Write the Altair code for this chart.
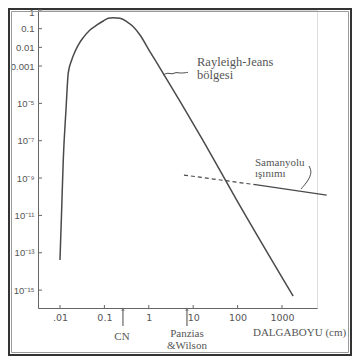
import altair as alt
import pandas as pd

# Planck (cosmic background) curve
planck_wavelength_cm = [0.0100, 0.01091, 0.01186, 0.01365, 0.01538, 0.01837, 0.02178, 0.0258,
                        0.0330, 0.0474, 0.0681, 0.0944, 0.1225, 0.156, 0.2245, 0.323, 0.448,
                        0.634, 1.06, 1.79, 15.5, 95.5, 1778]
planck_intensity = [4.1e-14, 1.95e-11, 9.3e-9, 4.4e-6, 4.3e-4, 2.1e-3, 5.9e-3, 0.0133,
                    0.032, 0.0849, 0.158, 0.258, 0.359, 0.39, 0.359, 0.234, 0.128,
                    0.046, 5.9e-3, 7.8e-4, 1.38e-7, 6.6e-11, 4.8e-16]

# Milky Way emission line
galaxy_dashed_wl = [6.2, 274]
galaxy_dashed_I = [1.45e-9, 4.3e-10]
galaxy_solid_wl = [274, 10160]
galaxy_solid_I = [4.3e-10, 1.23e-10]

# Leader lines
rj_leader_wl = [2.09, 2.70, 3.33, 4.10, 5.05, 7.64]
rj_leader_I = [3.3e-4, 4.5e-4, 3.5e-4, 4.8e-4, 4.0e-4, 4.6e-4]
mw_leader_wl = [4055, 4742, 3855, 2680]
mw_leader_I = [4.4e-9, 2.1e-9, 6.9e-10, 2.6e-10]

# Arrows under the axis (CN, Penzias & Wilson)
arrow_wl = [0.262, 7.24]
arrow_I_low = [1.2e-17, 1.2e-17]
arrow_I_high = [9.5e-17, 9.5e-17]

# Annotations
rj_texts = ["Rayleigh-Jeans", "bölgesi"]
rj_text_wl = [12.2, 12.2]
rj_text_I = [1.64e-3, 3.3e-4]
mw_texts = ["Samanyolu", "ışınımı"]
mw_text_wl = [246.6, 246.6]
mw_text_I = [6.4e-9, 1.64e-9]
axis_title = ["DALGABOYU (cm)"]
axis_title_wl = [222]
axis_title_I = [5.0e-18]
center_texts = ["CN", "Panzias", "&Wilson"]
center_text_wl = [0.249, 7.24, 7.24]
center_text_I = [3.05e-18, 4.4e-18, 1.0e-18]

# Axis ticks
x_tick_values = [0.01, 0.1, 1, 10, 100, 1000]
x_tick_labels = [".01", "0.1", "1", "10", "100", "1000"]
y_tick_values = [1, 0.1, 0.01, 0.001, 1e-5, 1e-7, 1e-9, 1e-11, 1e-13, 1e-15]
y_tick_labels = ["1", "0.1", "0.01", "0.001", "10⁻⁵", "10⁻⁷", "10⁻⁹", "10⁻¹¹", "10⁻¹³", "10⁻¹⁵"]


def label_expr(values, labels):
    import math
    expr = "''"
    for v, l in zip(values, labels):
        e = round(math.log10(v))
        expr = f"(round(log(datum.value)/LN10) == {e}) ? '{l}' : " + expr
    return expr


W, H = 279, 298
INK = "#4a4a4a"
TXT = "#555555"

xs = alt.Scale(type="log", domain=[0.0032, 6140], nice=False)
ys = alt.Scale(type="log", domain=[1.1e-16, 1], nice=False)

x_axis = alt.Axis(values=x_tick_values, labelExpr=label_expr(x_tick_values, x_tick_labels),
                  title=None, ticks=False, grid=False, labelPadding=4, labelFont="DejaVu Sans",
                  labelFontSize=9.5, labelColor=TXT, domainColor="#666", labelFlush=False)
y_axis = alt.Axis(values=y_tick_values, labelExpr=label_expr(y_tick_values, y_tick_labels),
                  title=None, ticks=False, grid=False, labelPadding=4, labelFont="Liberation Sans",
                  labelFontSize=9.5, labelColor=TXT, domainColor="#666",
                  labelFlush=True, labelFlushOffset=3)

planck_df = pd.DataFrame({"wl": planck_wavelength_cm, "I": planck_intensity})
planck = alt.Chart(planck_df).mark_line(color=INK, strokeWidth=1.5, interpolate="monotone").encode(
    x=alt.X("wl:Q", scale=xs, axis=x_axis),
    y=alt.Y("I:Q", scale=ys, axis=y_axis),
)

dashed = alt.Chart(pd.DataFrame({"wl": galaxy_dashed_wl, "I": galaxy_dashed_I})).mark_line(
    color=INK, strokeWidth=1.2, strokeDash=[4, 3], clip=False).encode(
    x=alt.X("wl:Q", scale=xs), y=alt.Y("I:Q", scale=ys))
solid = alt.Chart(pd.DataFrame({"wl": galaxy_solid_wl, "I": galaxy_solid_I})).mark_line(
    color=INK, strokeWidth=1.3, clip=False).encode(
    x=alt.X("wl:Q", scale=xs), y=alt.Y("I:Q", scale=ys))

rj_leader = alt.Chart(pd.DataFrame({"wl": rj_leader_wl, "I": rj_leader_I,
                                    "o": list(range(len(rj_leader_wl)))})).mark_line(
    color=INK, strokeWidth=1, interpolate="basis").encode(
    x=alt.X("wl:Q", scale=xs), y=alt.Y("I:Q", scale=ys), order="o:Q")
mw_leader = alt.Chart(pd.DataFrame({"wl": mw_leader_wl, "I": mw_leader_I,
                                    "o": list(range(len(mw_leader_wl)))})).mark_line(
    color=INK, strokeWidth=1, interpolate="basis").encode(
    x=alt.X("wl:Q", scale=xs), y=alt.Y("I:Q", scale=ys), order="o:Q")

arrow_df = pd.DataFrame({"wl": arrow_wl, "lo": arrow_I_low, "hi": arrow_I_high})
arrows = alt.Chart(arrow_df).mark_rule(color="#666", strokeWidth=1.2).encode(
    x=alt.X("wl:Q", scale=xs), y=alt.Y("lo:Q", scale=ys), y2="hi:Q")
heads = alt.Chart(arrow_df).mark_point(shape="triangle-up", filled=True, color="#666", size=14).encode(
    x=alt.X("wl:Q", scale=xs), y=alt.Y("hi:Q", scale=ys))

xt = alt.Chart(pd.DataFrame({"v": x_tick_values})).mark_rule(color="#666").encode(
    x=alt.X("v:Q", scale=xs), y=alt.value(H), y2=alt.value(H - 3))
yt = alt.Chart(pd.DataFrame({"v": y_tick_values})).mark_rule(color="#666").encode(
    y=alt.Y("v:Q", scale=ys), x=alt.value(0), x2=alt.value(4))

rj_txt = alt.Chart(pd.DataFrame({"t": rj_texts, "wl": rj_text_wl, "I": rj_text_I})).mark_text(
    align="left", baseline="middle", font="Liberation Serif", fontSize=12.5, color=TXT).encode(
    x=alt.X("wl:Q", scale=xs), y=alt.Y("I:Q", scale=ys), text="t:N")
mw_txt = alt.Chart(pd.DataFrame({"t": mw_texts, "wl": mw_text_wl, "I": mw_text_I})).mark_text(
    align="left", baseline="middle", font="Liberation Serif", fontSize=11, color=TXT).encode(
    x=alt.X("wl:Q", scale=xs), y=alt.Y("I:Q", scale=ys), text="t:N")
title_txt = alt.Chart(pd.DataFrame({"t": axis_title, "wl": axis_title_wl, "I": axis_title_I})).mark_text(
    align="left", baseline="middle", font="Liberation Serif", fontSize=11, color=TXT).encode(
    x=alt.X("wl:Q", scale=xs), y=alt.Y("I:Q", scale=ys), text="t:N")
center_txt = alt.Chart(pd.DataFrame({"t": center_texts, "wl": center_text_wl, "I": center_text_I})).mark_text(
    align="center", baseline="middle", font="Liberation Serif", fontSize=11, color=TXT).encode(
    x=alt.X("wl:Q", scale=xs), y=alt.Y("I:Q", scale=ys), text="t:N")

frame = alt.Chart(alt.Data(values=[{}])).mark_rect(
    fillOpacity=0, stroke="#333333", strokeWidth=2).encode(
    x=alt.value(-29), x2=alt.value(313), y=alt.value(-1), y2=alt.value(345))
inner = alt.Chart(alt.Data(values=[{}])).mark_rect(
    fillOpacity=0, stroke="#9a9a9a", strokeWidth=1).encode(
    x=alt.value(-26.5), x2=alt.value(310.5), y=alt.value(1.5), y2=alt.value(342.5))

chart = alt.layer(
    frame, inner, xt, yt, planck, dashed, solid, rj_leader, mw_leader, arrows, heads,
    rj_txt, mw_txt, title_txt, center_txt
).properties(
    width=W, height=H,
    autosize=alt.AutoSizeParams(type="none"),
    padding={"left": 30, "top": 2, "right": 35, "bottom": 48},
).configure_view(stroke=None).configure(background="white")

chart.save("out.html", embed_options={"renderer": "svg", "actions": False})
